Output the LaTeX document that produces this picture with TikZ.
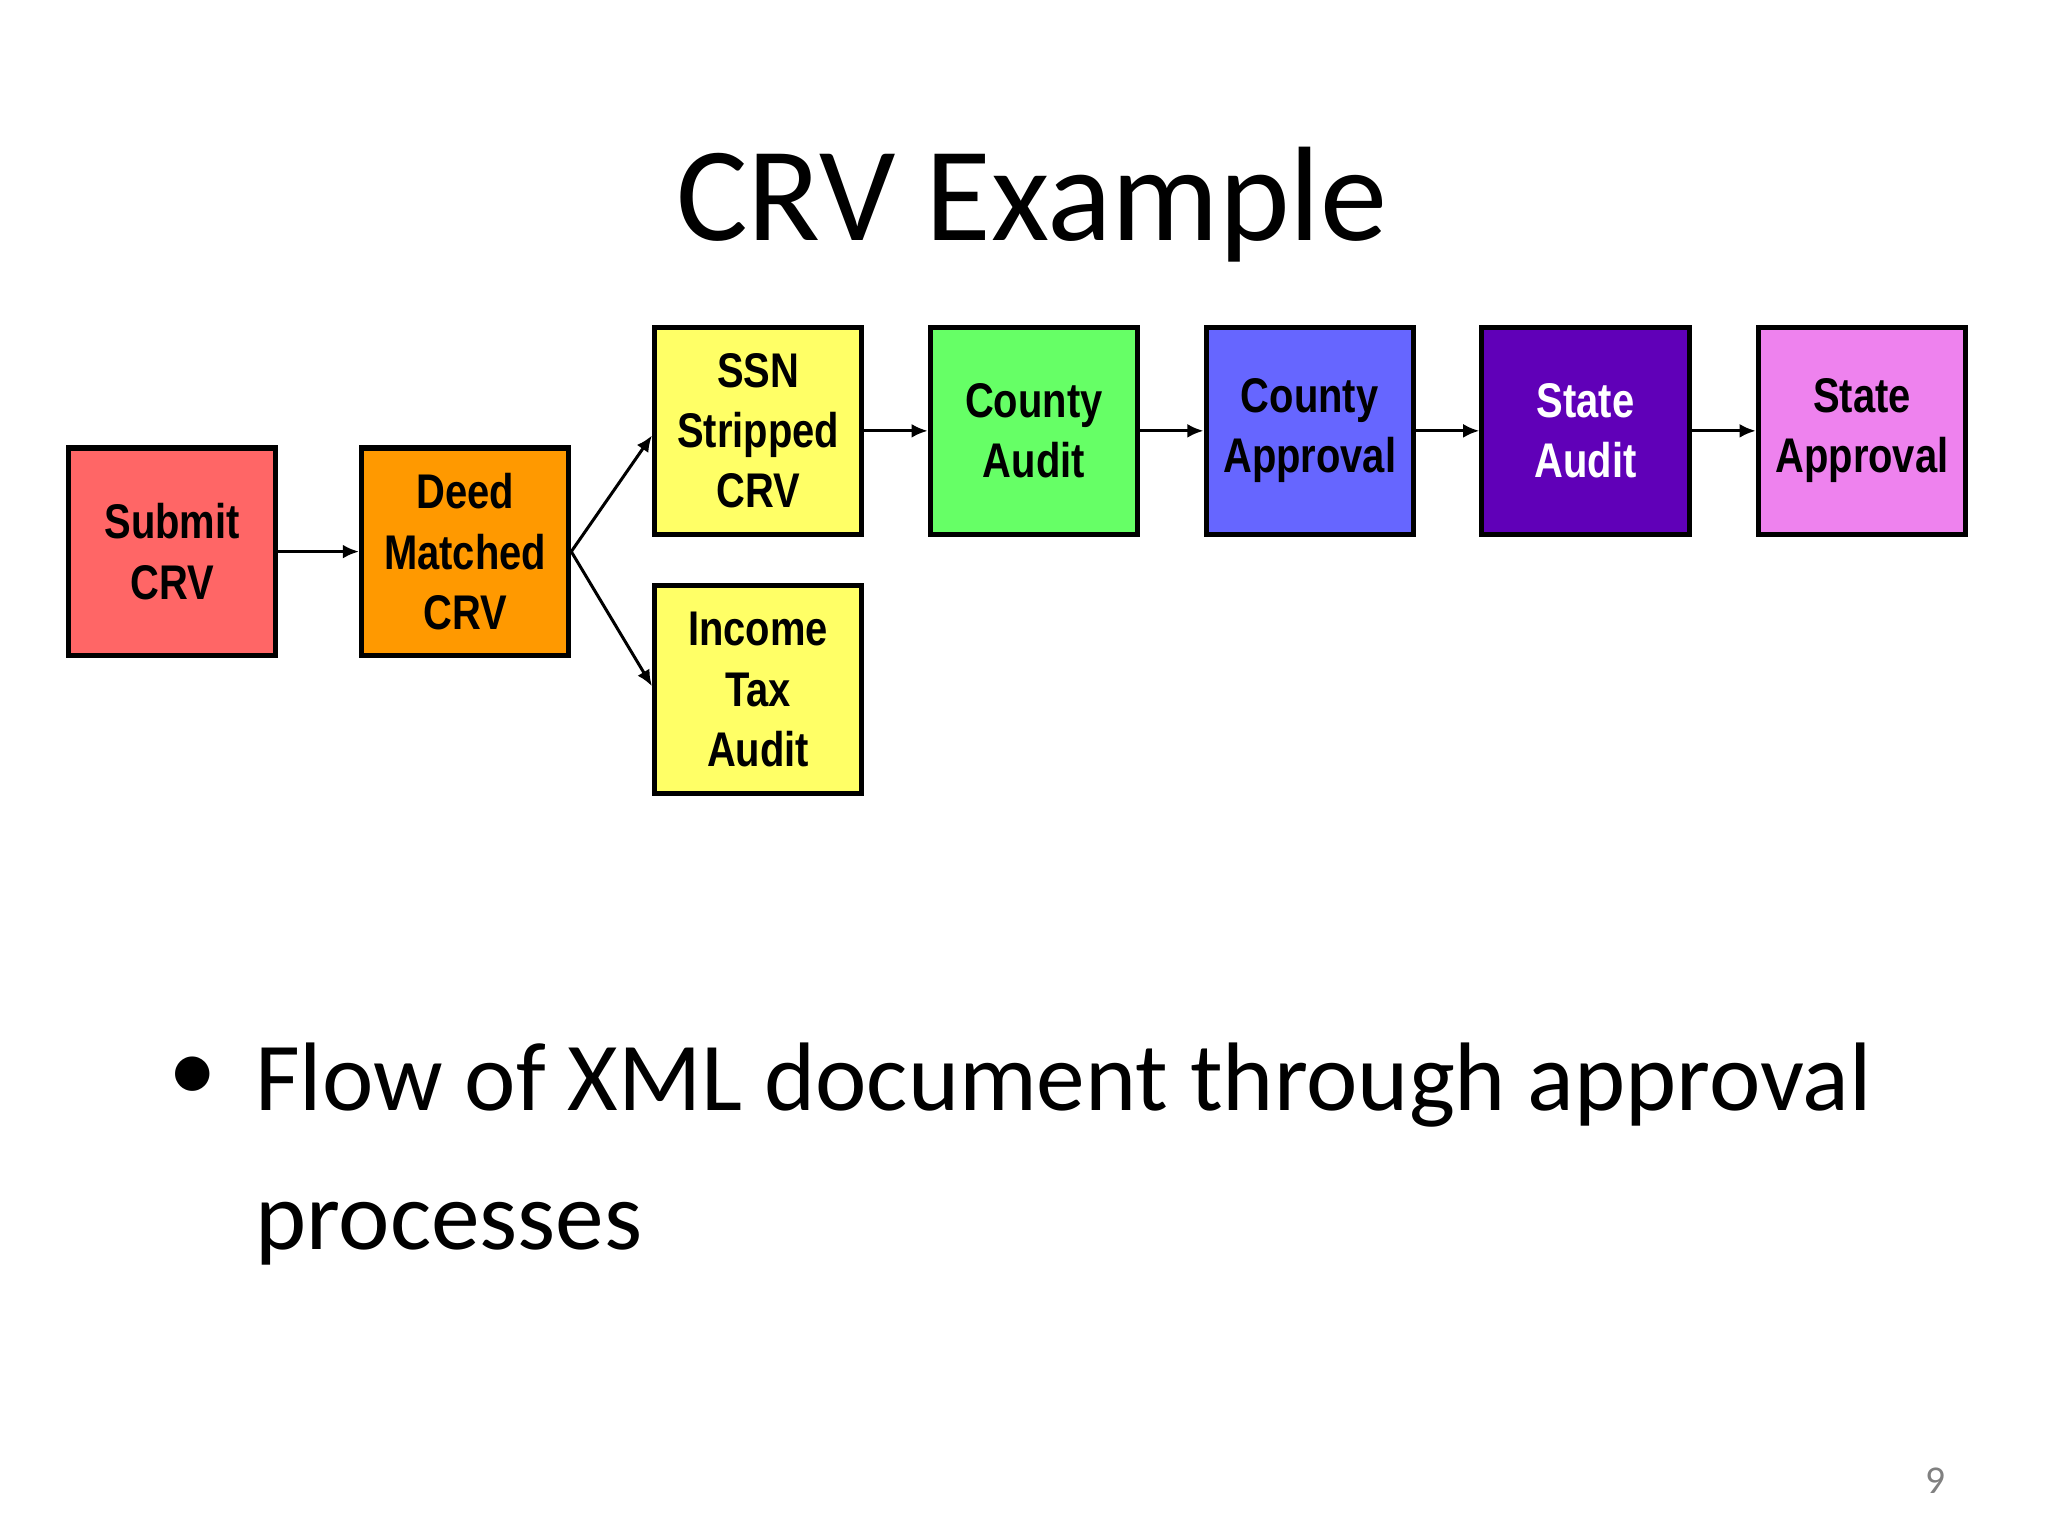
\documentclass[tikz,border=0pt]{standalone}
\usepackage{fontspec}
\setmainfont{Carlito}
\newfontfamily\boxfont[FakeStretch=0.82]{Liberation Sans}
\usetikzlibrary{arrows.meta}
\begin{document}
\begin{tikzpicture}[x=0.02cm,y=-0.02cm,
  pbox/.style={draw=black,line width=2.2pt,minimum width=3.14cm,minimum height=3.14cm,inner sep=0pt,align=center,font=\boxfont\bfseries\fontsize{21}{26}\selectfont},
  arr/.style={line width=1.3pt,-{Latex[length=7pt,width=6pt]}}]
\useasboundingbox (0,0) rectangle (1552,1164);
\definecolor{cred}{HTML}{FF6666}
\definecolor{corange}{HTML}{FF9900}
\definecolor{cyellow}{HTML}{FFFF66}
\definecolor{cgreen}{HTML}{66FF66}
\definecolor{cblue}{HTML}{6666FF}
\definecolor{cpurple}{HTML}{6000B8}
\definecolor{cpink}{HTML}{EE82EE}
\node[font=\fontsize{58}{68}\selectfont] (title) at (782,155) {CRV Example};
\node[pbox,fill=cred] (submit) at (130.5,418) {Submit\\CRV};
\node[pbox,fill=corange] (deed) at (352.5,418) {Deed\\Matched\\CRV};
\node[pbox,fill=cyellow] (ssn) at (574.5,326.5) {SSN\\Stripped\\CRV};
\node[pbox,fill=cyellow] (inc) at (574.5,522.5) {Income\\Tax\\Audit};
\node[pbox,fill=cgreen] (ca) at (783.5,326.5) {County\\Audit};
\node[pbox,fill=cblue] (cap) at (992.5,326.5) {County\\Approval};
\node[pbox,fill=cpurple,text=white] (sa) at (1201.5,326.5) {State\\Audit};
\node[pbox,fill=cpink] (sap) at (1411,326.5) {State\\Approval};
\draw[arr] (submit) -- (deed);
\draw[arr] (deed.east) -- (ssn.west |- 0,330);
\draw[arr] (deed.east) -- (inc.west |- 0,520);
\draw[arr] (ssn) -- (ca);
\draw[arr] (ca) -- (cap);
\draw[arr] (cap) -- (sa);
\draw[arr] (sa) -- (sap);
\node[font=\fontsize{42}{50}\selectfont] (bul) at (146,818) {•};
\node[anchor=north west,align=left,inner sep=0pt,font=\fontsize{42}{60}\selectfont] (txt) at (193,790) {Flow of XML document through approval\\processes};
\node[text=gray,font=\fontsize{17}{20}\selectfont] (pg) at (1467,1122) {9};
\end{tikzpicture}
\end{document}
